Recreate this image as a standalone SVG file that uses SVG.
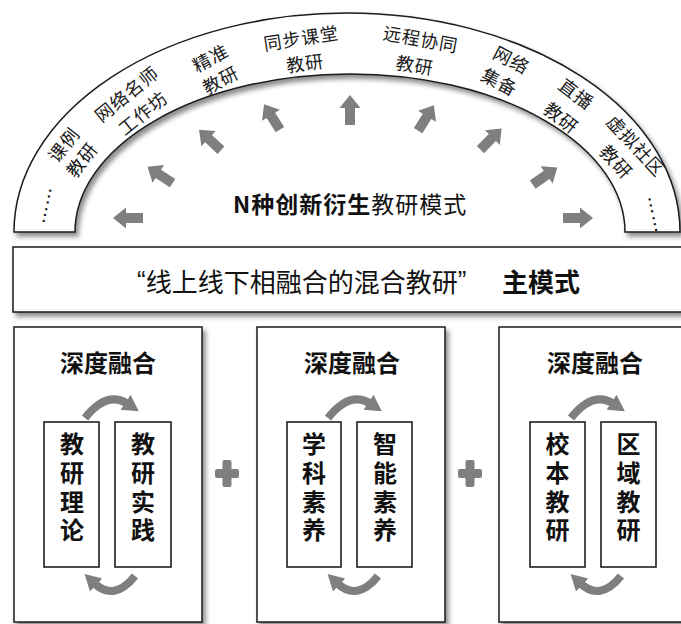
<svg xmlns="http://www.w3.org/2000/svg" width="681" height="624" viewBox="0 0 681 624">
<style>
.cj{font-family:"Noto Sans CJK SC","Noto Sans",sans-serif;}
.lab{font-family:"Noto Sans CJK SC",sans-serif;font-size:18px;fill:#1a1a1a;text-anchor:middle;dominant-baseline:central;letter-spacing:1px;}
.frame{fill:#fff;stroke:#1a1a1a;stroke-width:1.5;}
.inner{fill:#fff;stroke:#111;stroke-width:1.5;}
.title{font-family:"Noto Sans CJK SC",sans-serif;font-size:24px;font-weight:700;fill:#111;text-anchor:middle;dominant-baseline:central;}
.vt{font-family:"Noto Sans CJK SC",sans-serif;font-size:24px;font-weight:700;fill:#111;writing-mode:vertical-rl;letter-spacing:4.7px;}
.ga{fill:#7f7f7f;}
.curve{fill:none;stroke:#7f7f7f;stroke-width:8;}
</style>
<defs>
<filter id="sh" x="-10%" y="-10%" width="120%" height="130%">
<feDropShadow dx="3" dy="4" stdDeviation="2.5" flood-color="#000" flood-opacity="0.45"/>
</filter>
<polygon id="blk" points="-15,-5 2,-5 2,-10.5 15,0 2,10.5 2,5 -15,5"/>
<marker id="ah" markerUnits="userSpaceOnUse" markerWidth="18" markerHeight="20" viewBox="0 0 18 20" refX="3" refY="10" orient="auto">
<path d="M0,1 L16,10 L0,19 z" fill="#7f7f7f"/>
</marker>
</defs>
<rect width="681" height="624" fill="#fff"/>

<g id="arch">
<path class="frame" filter="url(#sh)" d="M 14 232 A 333 219 0 0 1 680 232 L 625 232 A 275 158 0 0 0 75 232 Z"/>
</g>

<g id="arch-labels">
<g id="lab-dots-left"><text class="lab" transform="translate(46,205) rotate(-78)">……</text></g>
<g id="lab-keli"><text class="lab" transform="translate(63,144) rotate(-52)">课例</text><text class="lab" transform="translate(81,159) rotate(-52)">教研</text></g>
<g id="lab-wangluomingshi"><text class="lab" transform="translate(126,93) rotate(-39)">网络名师</text><text class="lab" transform="translate(142,112) rotate(-39)">工作坊</text></g>
<g id="lab-jingzhun"><text class="lab" transform="translate(210,57) rotate(-28)">精准</text><text class="lab" transform="translate(220,79) rotate(-28)">教研</text></g>
<g id="lab-tongbu"><text class="lab" transform="translate(301,37) rotate(-9)">同步课堂</text><text class="lab" transform="translate(305,62) rotate(-8)">教研</text></g>
<g id="lab-yuancheng"><text class="lab" transform="translate(421,38) rotate(10)">远程协同</text><text class="lab" transform="translate(415,64) rotate(9)">教研</text></g>
<g id="lab-jibei"><text class="lab" transform="translate(512,59) rotate(28)">网络</text><text class="lab" transform="translate(500,81) rotate(28)">集备</text></g>
<g id="lab-zhibo"><text class="lab" transform="translate(577,93) rotate(37)">直播</text><text class="lab" transform="translate(562,117) rotate(38)">教研</text></g>
<g id="lab-xuni"><text class="lab" transform="translate(637,145) rotate(47)">虚拟社区</text><text class="lab" transform="translate(617,161) rotate(47)">教研</text></g>
<g id="lab-dots-right"><text class="lab" transform="translate(654,215) rotate(78)">……</text></g>
</g>

<g id="connectors">
<use href="#blk" class="ga" transform="translate(128,218) rotate(180)"/>
<use href="#blk" class="ga" transform="translate(160,175) rotate(-147)"/>
<use href="#blk" class="ga" transform="translate(210,140) rotate(-137)"/>
<use href="#blk" class="ga" transform="translate(272,117) rotate(-122)"/>
<use href="#blk" class="ga" transform="translate(350,110) rotate(-90)"/>
<use href="#blk" class="ga" transform="translate(426,118) rotate(-58)"/>
<use href="#blk" class="ga" transform="translate(491,139) rotate(-45)"/>
<use href="#blk" class="ga" transform="translate(545,176) rotate(-35)"/>
<use href="#blk" class="ga" transform="translate(578,218) rotate(0)"/>
</g>

<g id="n-modes">
<text class="cj" x="233" y="203" font-size="23" fill="#111" dominant-baseline="central" letter-spacing="1"><tspan font-weight="700">N种创新衍生</tspan><tspan font-weight="400">教研模式</tspan></text>
</g>

<g id="main-mode">
<rect class="frame" filter="url(#sh)" x="13" y="247" width="680" height="65"/>
<text x="137" y="280" font-size="26" fill="#111" dominant-baseline="central"><tspan font-family="Liberation Sans,sans-serif">“</tspan><tspan class="cj">线上线下相融合的混合教研</tspan><tspan font-family="Liberation Sans,sans-serif">”</tspan></text>
<text class="cj" x="502" y="280" font-size="26" font-weight="700" fill="#111" dominant-baseline="central">主模式</text>
</g>

<g id="box1" transform="translate(14,0)">
<rect class="frame" filter="url(#sh)" x="0" y="327" width="188" height="295"/>
<text class="title" x="94" y="361">深度融合</text>
<rect class="inner" x="30" y="422" width="55" height="145"/>
<rect class="inner" x="101" y="422" width="56" height="145"/>
<text class="vt" x="58" y="432">教研理论</text>
<text class="vt" x="129" y="432">教研实践</text>
<path class="curve" marker-end="url(#ah)" d="M 71 418 Q 93 390 114 404"/>
<path class="curve" marker-end="url(#ah)" d="M 121 576 Q 100 602 80 583"/>
</g>

<g id="plus1"><rect class="ga" x="215" y="469" width="24" height="9" rx="2"/><rect class="ga" x="222.5" y="460" width="9" height="27" rx="2"/></g>

<g id="box2" transform="translate(257,0)">
<rect class="frame" filter="url(#sh)" x="0" y="327" width="188" height="295"/>
<text class="title" x="95" y="361">深度融合</text>
<rect class="inner" x="30" y="422" width="54" height="145"/>
<rect class="inner" x="100" y="422" width="55" height="145"/>
<text class="vt" x="57" y="432">学科素养</text>
<text class="vt" x="128" y="432">智能素养</text>
<path class="curve" marker-end="url(#ah)" d="M 71 418 Q 93 390 114 404"/>
<path class="curve" marker-end="url(#ah)" d="M 121 576 Q 100 602 80 583"/>
</g>

<g id="plus2"><rect class="ga" x="458" y="469" width="24" height="9" rx="2"/><rect class="ga" x="465.5" y="460" width="9" height="27" rx="2"/></g>

<g id="box3" transform="translate(499,0)">
<rect class="frame" filter="url(#sh)" x="0" y="327" width="188" height="295"/>
<text class="title" x="96" y="361">深度融合</text>
<rect class="inner" x="31" y="422" width="55" height="145"/>
<rect class="inner" x="102" y="422" width="55" height="145"/>
<text class="vt" x="58.5" y="432">校本教研</text>
<text class="vt" x="129.5" y="432">区域教研</text>
<path class="curve" marker-end="url(#ah)" d="M 72 418 Q 94 390 115 404"/>
<path class="curve" marker-end="url(#ah)" d="M 122 576 Q 101 602 81 583"/>
</g>
</svg>
